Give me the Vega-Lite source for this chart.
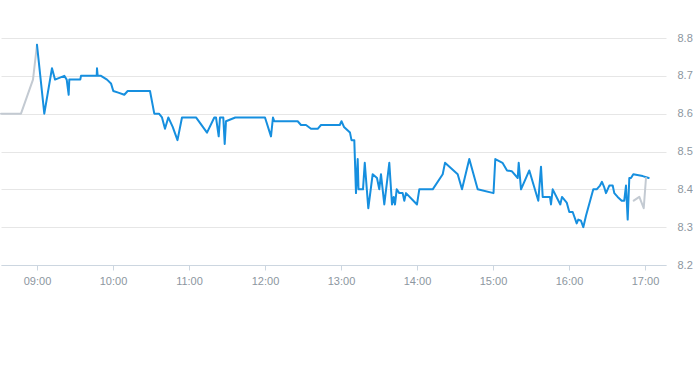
{
  "width": 665,
  "height": 227,
  "padding": {"left": 0, "top": 32, "right": 0, "bottom": 0},
  "background": "white",
  "config": {
    "view": {"stroke": null},
    "axis": {"labelFont": "Liberation Sans", "labelFontSize": 11, "labelColor": "#8c96a0"}
  },
  "data": {
    "values": [
      {"s": "pre", "t": "2024-01-02T08:31:35", "v": 8.60},
      {"s": "pre", "t": "2024-01-02T08:47:22", "v": 8.60},
      {"s": "pre", "t": "2024-01-02T08:56:50", "v": 8.69},
      {"s": "pre", "t": "2024-01-02T09:00:00", "v": 8.782},
      {"s": "main", "t": "2024-01-02T09:00:00", "v": 8.782},
      {"s": "main", "t": "2024-01-02T09:05:46", "v": 8.60},
      {"s": "main", "t": "2024-01-02T09:11:50", "v": 8.72},
      {"s": "main", "t": "2024-01-02T09:14:13", "v": 8.69},
      {"s": "main", "t": "2024-01-02T09:21:33", "v": 8.70},
      {"s": "main", "t": "2024-01-02T09:23:27", "v": 8.69},
      {"s": "main", "t": "2024-01-02T09:25:01", "v": 8.65},
      {"s": "main", "t": "2024-01-02T09:25:30", "v": 8.69},
      {"s": "main", "t": "2024-01-02T09:34:11", "v": 8.69},
      {"s": "main", "t": "2024-01-02T09:34:44", "v": 8.70},
      {"s": "main", "t": "2024-01-02T09:47:08", "v": 8.70},
      {"s": "main", "t": "2024-01-02T09:47:22", "v": 8.72},
      {"s": "main", "t": "2024-01-02T09:47:55", "v": 8.70},
      {"s": "main", "t": "2024-01-02T09:50:32", "v": 8.70},
      {"s": "main", "t": "2024-01-02T09:55:16", "v": 8.69},
      {"s": "main", "t": "2024-01-02T09:58:25", "v": 8.68},
      {"s": "main", "t": "2024-01-02T10:00:14", "v": 8.66},
      {"s": "main", "t": "2024-01-02T10:04:44", "v": 8.655},
      {"s": "main", "t": "2024-01-02T10:08:55", "v": 8.65},
      {"s": "main", "t": "2024-01-02T10:11:36", "v": 8.66},
      {"s": "main", "t": "2024-01-02T10:29:13", "v": 8.66},
      {"s": "main", "t": "2024-01-02T10:32:36", "v": 8.60},
      {"s": "main", "t": "2024-01-02T10:36:19", "v": 8.60},
      {"s": "main", "t": "2024-01-02T10:38:41", "v": 8.59},
      {"s": "main", "t": "2024-01-02T10:41:03", "v": 8.56},
      {"s": "main", "t": "2024-01-02T10:43:40", "v": 8.59},
      {"s": "main", "t": "2024-01-02T10:47:08", "v": 8.565},
      {"s": "main", "t": "2024-01-02T10:50:55", "v": 8.53},
      {"s": "main", "t": "2024-01-02T10:54:28", "v": 8.59},
      {"s": "main", "t": "2024-01-02T11:05:32", "v": 8.59},
      {"s": "main", "t": "2024-01-02T11:14:13", "v": 8.55},
      {"s": "main", "t": "2024-01-02T11:19:59", "v": 8.59},
      {"s": "main", "t": "2024-01-02T11:21:19", "v": 8.59},
      {"s": "main", "t": "2024-01-02T11:23:27", "v": 8.54},
      {"s": "main", "t": "2024-01-02T11:24:28", "v": 8.59},
      {"s": "main", "t": "2024-01-02T11:27:05", "v": 8.59},
      {"s": "main", "t": "2024-01-02T11:28:11", "v": 8.52},
      {"s": "main", "t": "2024-01-02T11:29:13", "v": 8.58},
      {"s": "main", "t": "2024-01-02T11:36:33", "v": 8.59},
      {"s": "main", "t": "2024-01-02T12:00:00", "v": 8.59},
      {"s": "main", "t": "2024-01-02T12:04:44", "v": 8.54},
      {"s": "main", "t": "2024-01-02T12:06:19", "v": 8.59},
      {"s": "main", "t": "2024-01-02T12:07:20", "v": 8.58},
      {"s": "main", "t": "2024-01-02T12:25:49", "v": 8.58},
      {"s": "main", "t": "2024-01-02T12:28:25", "v": 8.57},
      {"s": "main", "t": "2024-01-02T12:32:22", "v": 8.57},
      {"s": "main", "t": "2024-01-02T12:36:19", "v": 8.56},
      {"s": "main", "t": "2024-01-02T12:41:36", "v": 8.56},
      {"s": "main", "t": "2024-01-02T12:44:13", "v": 8.57},
      {"s": "main", "t": "2024-01-02T12:59:03", "v": 8.57},
      {"s": "main", "t": "2024-01-02T13:00:24", "v": 8.58},
      {"s": "main", "t": "2024-01-02T13:02:22", "v": 8.565},
      {"s": "main", "t": "2024-01-02T13:07:06", "v": 8.55},
      {"s": "main", "t": "2024-01-02T13:08:17", "v": 8.53},
      {"s": "main", "t": "2024-01-02T13:10:30", "v": 8.53},
      {"s": "main", "t": "2024-01-02T13:11:50", "v": 8.39},
      {"s": "main", "t": "2024-01-02T13:13:11", "v": 8.48},
      {"s": "main", "t": "2024-01-02T13:13:49", "v": 8.40},
      {"s": "main", "t": "2024-01-02T13:17:22", "v": 8.40},
      {"s": "main", "t": "2024-01-02T13:18:46", "v": 8.47},
      {"s": "main", "t": "2024-01-02T13:21:33", "v": 8.35},
      {"s": "main", "t": "2024-01-02T13:25:01", "v": 8.44},
      {"s": "main", "t": "2024-01-02T13:28:25", "v": 8.43},
      {"s": "main", "t": "2024-01-02T13:30:14", "v": 8.40},
      {"s": "main", "t": "2024-01-02T13:31:34", "v": 8.44},
      {"s": "main", "t": "2024-01-02T13:34:11", "v": 8.36},
      {"s": "main", "t": "2024-01-02T13:38:08", "v": 8.47},
      {"s": "main", "t": "2024-01-02T13:40:16", "v": 8.36},
      {"s": "main", "t": "2024-01-02T13:41:36", "v": 8.38},
      {"s": "main", "t": "2024-01-02T13:42:38", "v": 8.36},
      {"s": "main", "t": "2024-01-02T13:43:59", "v": 8.40},
      {"s": "main", "t": "2024-01-02T13:46:02", "v": 8.39},
      {"s": "main", "t": "2024-01-02T13:48:41", "v": 8.39},
      {"s": "main", "t": "2024-01-02T13:49:59", "v": 8.37},
      {"s": "main", "t": "2024-01-02T13:51:19", "v": 8.39},
      {"s": "main", "t": "2024-01-02T14:00:00", "v": 8.36},
      {"s": "main", "t": "2024-01-02T14:01:49", "v": 8.40},
      {"s": "main", "t": "2024-01-02T14:12:24", "v": 8.40},
      {"s": "main", "t": "2024-01-02T14:20:18", "v": 8.44},
      {"s": "main", "t": "2024-01-02T14:22:07", "v": 8.47},
      {"s": "main", "t": "2024-01-02T14:32:08", "v": 8.44},
      {"s": "main", "t": "2024-01-02T14:35:32", "v": 8.40},
      {"s": "main", "t": "2024-01-02T14:41:17", "v": 8.48},
      {"s": "main", "t": "2024-01-02T14:47:55", "v": 8.40},
      {"s": "main", "t": "2024-01-02T15:00:24", "v": 8.39},
      {"s": "main", "t": "2024-01-02T15:01:49", "v": 8.48},
      {"s": "main", "t": "2024-01-02T15:07:30", "v": 8.47},
      {"s": "main", "t": "2024-01-02T15:11:04", "v": 8.45},
      {"s": "main", "t": "2024-01-02T15:14:47", "v": 8.448},
      {"s": "main", "t": "2024-01-02T15:19:31", "v": 8.43},
      {"s": "main", "t": "2024-01-02T15:20:18", "v": 8.47},
      {"s": "main", "t": "2024-01-02T15:22:07", "v": 8.40},
      {"s": "main", "t": "2024-01-02T15:28:40", "v": 8.45},
      {"s": "main", "t": "2024-01-02T15:35:46", "v": 8.37},
      {"s": "main", "t": "2024-01-02T15:37:54", "v": 8.46},
      {"s": "main", "t": "2024-01-02T15:39:15", "v": 8.38},
      {"s": "main", "t": "2024-01-02T15:45:00", "v": 8.38},
      {"s": "main", "t": "2024-01-02T15:45:47", "v": 8.36},
      {"s": "main", "t": "2024-01-02T15:47:08", "v": 8.40},
      {"s": "main", "t": "2024-01-02T15:53:08", "v": 8.36},
      {"s": "main", "t": "2024-01-02T15:54:28", "v": 8.38},
      {"s": "main", "t": "2024-01-02T15:58:12", "v": 8.365},
      {"s": "main", "t": "2024-01-02T16:00:14", "v": 8.34},
      {"s": "main", "t": "2024-01-02T16:02:55", "v": 8.34},
      {"s": "main", "t": "2024-01-02T16:06:05", "v": 8.31},
      {"s": "main", "t": "2024-01-02T16:07:20", "v": 8.32},
      {"s": "main", "t": "2024-01-02T16:09:28", "v": 8.317},
      {"s": "main", "t": "2024-01-02T16:11:17", "v": 8.30},
      {"s": "main", "t": "2024-01-02T16:13:25", "v": 8.33},
      {"s": "main", "t": "2024-01-02T16:19:11", "v": 8.40},
      {"s": "main", "t": "2024-01-02T16:21:50", "v": 8.40},
      {"s": "main", "t": "2024-01-02T16:24:28", "v": 8.41},
      {"s": "main", "t": "2024-01-02T16:26:02", "v": 8.42},
      {"s": "main", "t": "2024-01-02T16:27:52", "v": 8.405},
      {"s": "main", "t": "2024-01-02T16:29:13", "v": 8.39},
      {"s": "main", "t": "2024-01-02T16:31:50", "v": 8.41},
      {"s": "main", "t": "2024-01-02T16:34:30", "v": 8.41},
      {"s": "main", "t": "2024-01-02T16:35:46", "v": 8.39},
      {"s": "main", "t": "2024-01-02T16:38:25", "v": 8.38},
      {"s": "main", "t": "2024-01-02T16:41:36", "v": 8.37},
      {"s": "main", "t": "2024-01-02T16:43:37", "v": 8.37},
      {"s": "main", "t": "2024-01-02T16:45:00", "v": 8.41},
      {"s": "main", "t": "2024-01-02T16:46:20", "v": 8.32},
      {"s": "main", "t": "2024-01-02T16:47:37", "v": 8.43},
      {"s": "main", "t": "2024-01-02T16:48:57", "v": 8.43},
      {"s": "main", "t": "2024-01-02T16:50:46", "v": 8.44},
      {"s": "main", "t": "2024-01-02T16:58:12", "v": 8.435},
      {"s": "main", "t": "2024-01-02T17:02:55", "v": 8.43},
      {"s": "post", "t": "2024-01-02T16:51:05", "v": 8.37},
      {"s": "post", "t": "2024-01-02T16:55:32", "v": 8.38},
      {"s": "post", "t": "2024-01-02T16:59:00", "v": 8.35},
      {"s": "post", "t": "2024-01-02T17:00:47", "v": 8.43}
    ]
  },
  "mark": {"type": "line", "strokeWidth": 2, "strokeJoin": "round", "strokeCap": "round"},
  "encoding": {
    "x": {
      "field": "t",
      "type": "temporal",
      "scale": {
        "domain": [
          {"year": 2024, "month": 1, "date": 2, "hours": 8, "minutes": 31, "seconds": 35},
          {"year": 2024, "month": 1, "date": 2, "hours": 17, "minutes": 16, "seconds": 35}
        ]
      },
      "axis": {
        "title": null,
        "format": "%H:%M",
        "values": [
          {"year": 2024, "month": 1, "date": 2, "hours": 9},
          {"year": 2024, "month": 1, "date": 2, "hours": 10},
          {"year": 2024, "month": 1, "date": 2, "hours": 11},
          {"year": 2024, "month": 1, "date": 2, "hours": 12},
          {"year": 2024, "month": 1, "date": 2, "hours": 13},
          {"year": 2024, "month": 1, "date": 2, "hours": 14},
          {"year": 2024, "month": 1, "date": 2, "hours": 15},
          {"year": 2024, "month": 1, "date": 2, "hours": 16},
          {"year": 2024, "month": 1, "date": 2, "hours": 17}
        ],
        "grid": false,
        "domainColor": "#ccd6e0",
        "tickColor": "#ccd6e0",
        "tickSize": 5,
        "labelPadding": 5,
        "labelFlush": false
      }
    },
    "y": {
      "field": "v",
      "type": "quantitative",
      "scale": {"domain": [8.2, 8.8], "zero": false, "nice": false},
      "axis": {
        "title": null,
        "orient": "right",
        "values": [8.2, 8.3, 8.4, 8.5, 8.6, 8.7, 8.8],
        "format": ".1f",
        "domain": false,
        "ticks": false,
        "labelPadding": 11,
        "gridColor": "#e6e6e6",
        "gridWidth": 1
      }
    },
    "color": {
      "field": "s",
      "type": "nominal",
      "scale": {"domain": ["pre", "main", "post"], "range": ["#c3cad2", "#168fdf", "#c3cad2"]},
      "legend": null
    }
  }
}
